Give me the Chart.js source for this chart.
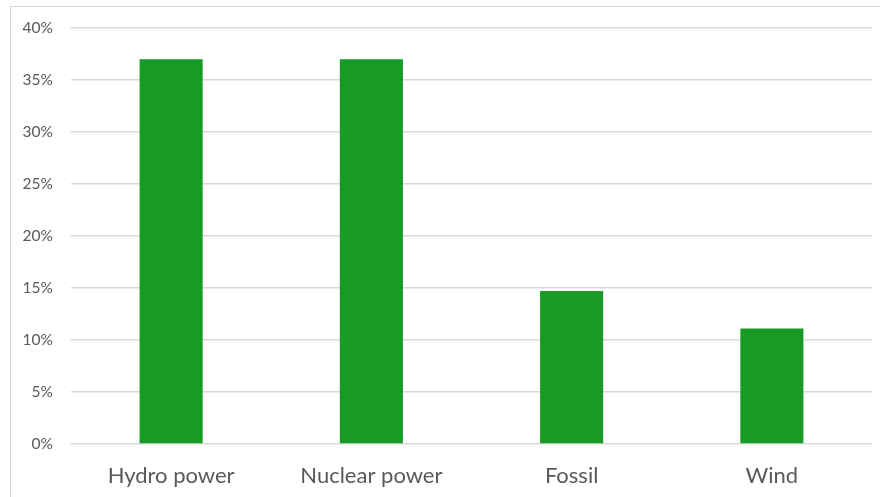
<!DOCTYPE html>
<html>
<head>
<meta charset="utf-8">
<script src="https://cdn.jsdelivr.net/npm/chart.js@4"></script>
<style>
  html, body { margin: 0; padding: 0; background: #fff; overflow: hidden; }
  #wrap { position: absolute; left: 0; top: 0; width: 880px; height: 497px; }
  #frame { position: absolute; left: 10px; top: 6px; width: 900px; height: 520px; border: 1.5px solid #d9d9d9; box-sizing: border-box; }
  canvas { position: absolute; left: 0; top: 0; }
</style>
</head>
<body>
<div id="wrap">
  <div id="frame"></div>
  <canvas id="c" width="880" height="497"></canvas>
</div>
<script>
const categories = ["Hydro power", "Nuclear power", "Fossil", "Wind"];
const shares = [37.0, 37.0, 14.7, 11.1];
const yTicks = [0, 5, 10, 15, 20, 25, 30, 35, 40];

const FONT = "Lato, 'Open Sans', sans-serif";
new Chart(document.getElementById('c'), {
  type: 'bar',
  data: {
    labels: categories,
    datasets: [{
      data: shares,
      backgroundColor: '#179B26',
      borderWidth: 0,
      categoryPercentage: 1,
      barPercentage: 0.315
    }]
  },
  options: {
    responsive: false,
    animation: false,
    devicePixelRatio: 1,
    layout: { padding: { left: 0, right: 8, top: 28, bottom: 0 } },
    plugins: { legend: { display: false }, tooltip: { enabled: false } },
    scales: {
      x: {
        grid: { display: false, drawTicks: false },
        border: { display: false },
        ticks: { color: '#595959', font: { family: FONT, size: 22 }, padding: 19 },
        afterFit: (s) => { s.height = 497 - 444; }
      },
      y: {
        min: 0, max: 40,
        afterBuildTicks: (s) => { s.ticks = yTicks.map(v => ({ value: v })); },
        grid: { color: '#d9d9d9', lineWidth: 1.5, drawTicks: false },
        border: { display: false },
        ticks: { color: '#595959', font: { family: FONT, size: 15.5 }, padding: 18,
                 callback: (v) => v + '%' },
        afterFit: (s) => { s.width = 71; }
      }
    }
  }
});
</script>
</body>
</html>
